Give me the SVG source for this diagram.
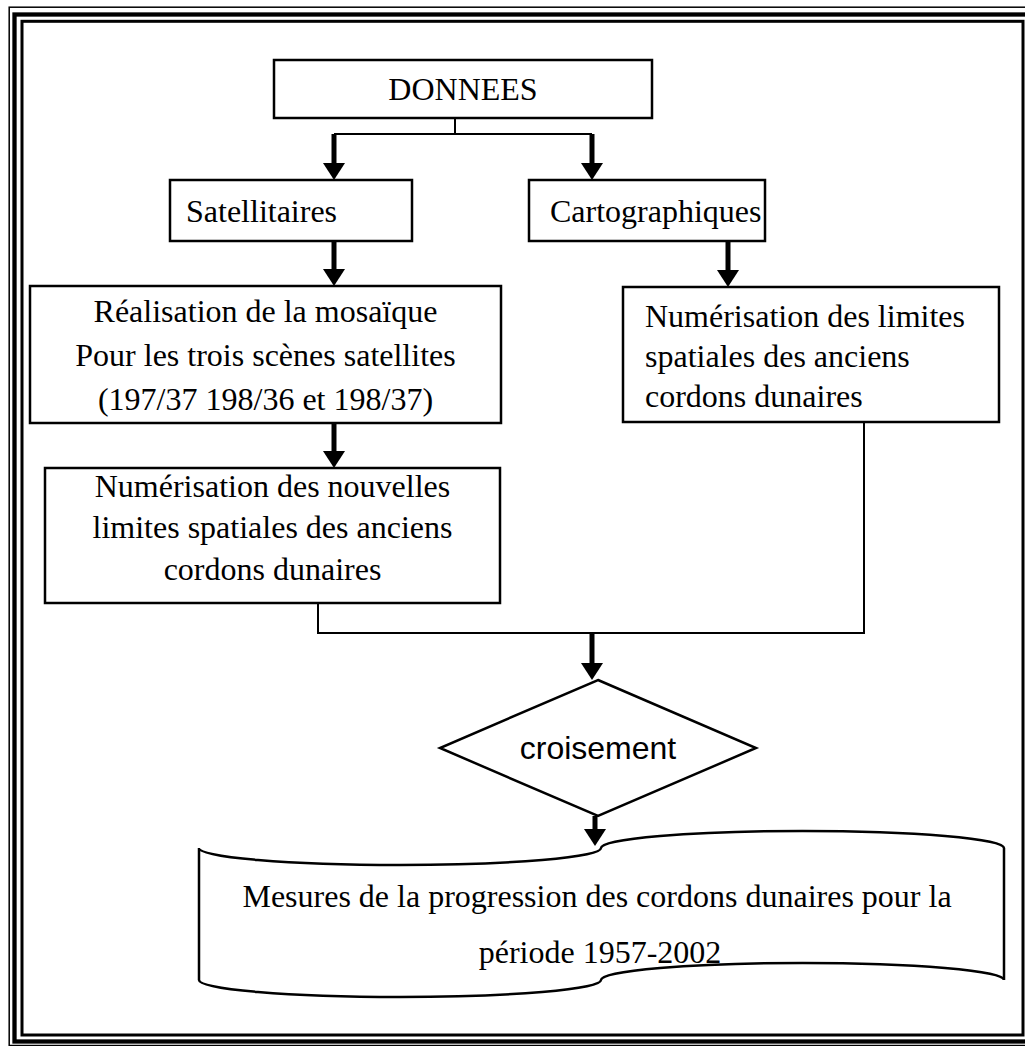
<svg xmlns="http://www.w3.org/2000/svg" width="1025" height="1046" viewBox="0 0 1025 1046">
<style>
.box{fill:#fff;stroke:#000;stroke-width:2.5}
.t{font-family:"Liberation Serif","Times New Roman",serif;font-size:32px;fill:#000}
.s{font-family:"Liberation Sans",Arial,sans-serif;font-size:32px;fill:#000}
.thin{fill:none;stroke:#000;stroke-width:2}
.thick{fill:none;stroke:#000;stroke-width:5}
.frame{fill:none;stroke:#000}
</style>
<defs>
<marker id="ah" markerUnits="userSpaceOnUse" viewBox="0 0 17 22" refX="0" refY="11" markerWidth="17" markerHeight="22" orient="auto">
<path d="M0,0 L17,11 L0,22 Z" fill="#000"/>
</marker>
</defs>
<rect width="1025" height="1046" fill="#fff"/>
<g id="frame">
<rect class="frame" x="9.2" y="7.2" width="1030" height="1038.3" stroke-width="1.5"/>
<rect class="frame" x="14.5" y="14.5" width="1017" height="1027" stroke-width="4.3"/>
<rect class="frame" x="22" y="21.3" width="1001" height="1013.7" stroke-width="3"/>
</g>
<g id="connectors">
<path class="thin" d="M455,118 V134 M334,134 H592"/>
<path class="thin" d="M318,603 V633 H864 V422"/>
<path class="thick" d="M334,134 V163" marker-end="url(#ah)"/>
<path class="thick" d="M592,134 V163" marker-end="url(#ah)"/>
<path class="thick" d="M334,241 V269" marker-end="url(#ah)"/>
<path class="thick" d="M728,241 V270" marker-end="url(#ah)"/>
<path class="thick" d="M334,423 V451" marker-end="url(#ah)"/>
<path class="thick" d="M592,633 V663" marker-end="url(#ah)"/>
<path class="thick" d="M595,816 V829" marker-end="url(#ah)"/>
</g>
<g id="donnees">
<rect class="box" x="274" y="60" width="378" height="58"/>
<text class="t" x="463" y="100" text-anchor="middle">DONNEES</text>
</g>
<g id="satellitaires">
<rect class="box" x="170" y="180" width="242" height="61"/>
<text class="t" x="186" y="222">Satellitaires</text>
</g>
<g id="cartographiques">
<rect class="box" x="529" y="180" width="236" height="61"/>
<text class="t" x="550" y="222">Cartographiques</text>
</g>
<g id="mosaique">
<rect class="box" x="30" y="286" width="471" height="137"/>
<text class="t" x="265.5" text-anchor="middle"><tspan x="265.5" y="322">Réalisation de la mosaïque</tspan><tspan x="265.5" y="366">Pour les trois scènes satellites</tspan><tspan x="265.5" y="410">(197/37 198/36 et 198/37)</tspan></text>
</g>
<g id="numerisation-limites">
<rect class="box" x="623" y="287" width="376" height="135"/>
<text class="t"><tspan x="645" y="327">Numérisation des limites</tspan><tspan x="645" y="367">spatiales des anciens</tspan><tspan x="645" y="407">cordons dunaires</tspan></text>
</g>
<g id="numerisation-nouvelles">
<rect class="box" x="45" y="468" width="455" height="135"/>
<text class="t" text-anchor="middle"><tspan x="272.5" y="497">Numérisation des nouvelles</tspan><tspan x="272.5" y="538">limites spatiales des anciens</tspan><tspan x="272.5" y="580">cordons dunaires</tspan></text>
</g>
<g id="croisement">
<polygon class="box" points="598,680 756,748 598,816 440,748"/>
<text class="s" x="598" y="759" text-anchor="middle">croisement</text>
</g>
<g id="mesures">
<path class="box" d="M199,848 A201,17 0 0 0 601,848 A201.5,17 0 0 1 1004,848 L1004,980 A201.5,17 0 0 0 601,980 A201,17 0 0 1 199,980 Z"/>
<text class="t" text-anchor="middle"><tspan x="597" y="907">Mesures de la progression des cordons dunaires pour la</tspan><tspan x="600" y="963">période 1957-2002</tspan></text>
</g>
</svg>
